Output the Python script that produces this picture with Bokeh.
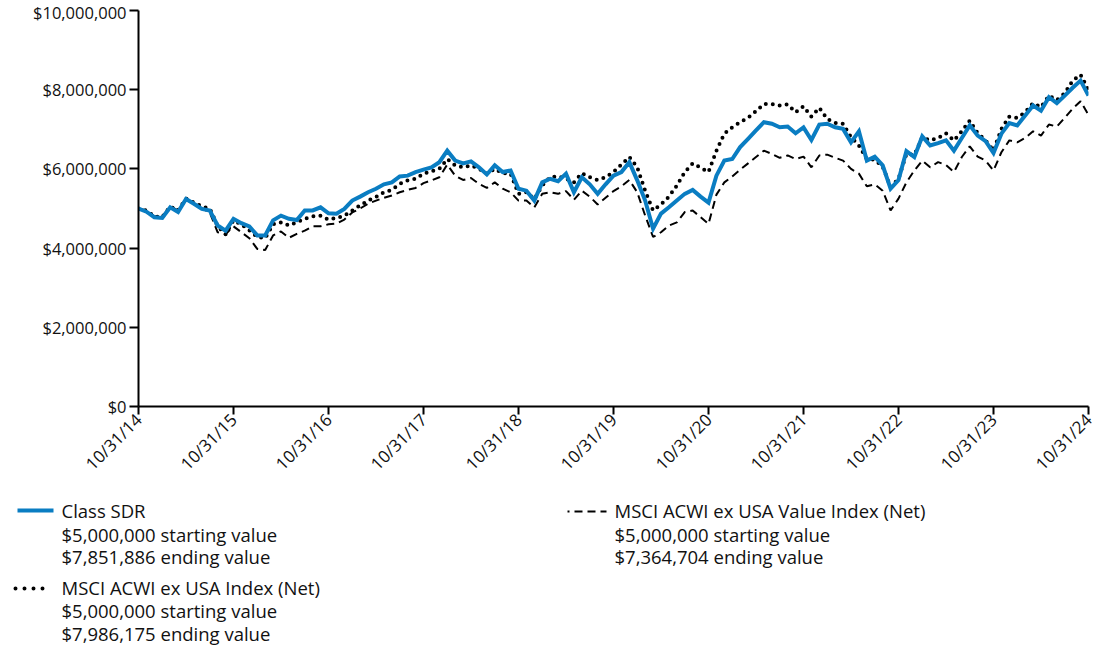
import math
from bokeh.plotting import figure
from bokeh.models import Range1d, NumeralTickFormatter, FixedTicker
from bokeh.layouts import column
from bokeh.embed import file_html
from bokeh.resources import INLINE
from bokeh.core.properties import value

# ---------------- data (values in $ millions, month-end, 10/31/14 .. 10/31/24) ----------------
months = list(range(121))
tick_months = [0, 12, 24, 36, 48, 60, 72, 84, 96, 108, 120]
tick_labels = ["10/31/14", "10/31/15", "10/31/16", "10/31/17", "10/31/18", "10/31/19",
               "10/31/20", "10/31/21", "10/31/22", "10/31/23", "10/31/24"]
y_ticks = [0, 2_000_000, 4_000_000, 6_000_000, 8_000_000, 10_000_000]

class_sdr = [
    5.00, 4.92, 4.78, 4.76, 5.03, 4.91, 5.24, 5.12, 4.99, 4.95,
    4.57, 4.44, 4.74, 4.63, 4.55, 4.32, 4.32, 4.70, 4.82, 4.74,
    4.71, 4.95, 4.95, 5.03, 4.88, 4.87, 4.99, 5.20, 5.30, 5.41,
    5.50, 5.61, 5.66, 5.81, 5.83, 5.92, 5.98, 6.04, 6.17, 6.46,
    6.21, 6.14, 6.19, 6.04, 5.86, 6.09, 5.92, 5.96, 5.50, 5.45,
    5.20, 5.66, 5.75, 5.69, 5.88, 5.41, 5.79, 5.61, 5.37, 5.61,
    5.83, 5.92, 6.17, 5.71, 5.20, 4.49, 4.87, 5.03, 5.20, 5.37,
    5.47, 5.30, 5.15, 5.83, 6.21, 6.25, 6.55, 6.76, 6.97, 7.18,
    7.14, 7.05, 7.07, 6.90, 7.05, 6.73, 7.12, 7.14, 7.05, 7.01,
    6.67, 6.95, 6.21, 6.31, 6.09, 5.50, 5.72, 6.45, 6.30, 6.82,
    6.59, 6.65, 6.72, 6.46, 6.78, 7.10, 6.84, 6.70, 6.40, 6.89,
    7.16, 7.10, 7.35, 7.60, 7.47, 7.81, 7.66, 7.85, 8.05, 8.23,
    7.851886]

acwi_ex_usa = [
    5.00, 4.95, 4.80, 4.78, 5.05, 4.95, 5.25, 5.15, 5.05, 5.00,
    4.55, 4.35, 4.70, 4.60, 4.45, 4.28, 4.25, 4.60, 4.65, 4.57,
    4.65, 4.74, 4.80, 4.82, 4.72, 4.76, 4.82, 4.95, 5.08, 5.20,
    5.29, 5.41, 5.47, 5.62, 5.71, 5.75, 5.88, 5.94, 6.00, 6.25,
    6.09, 6.04, 6.09, 6.00, 5.88, 6.00, 5.89, 5.88, 5.37, 5.41,
    5.24, 5.58, 5.79, 5.81, 5.75, 5.66, 5.89, 5.79, 5.72, 5.79,
    5.92, 6.11, 6.30, 6.04, 5.45, 4.95, 5.10, 5.30, 5.58, 5.92,
    6.14, 6.03, 5.92, 6.46, 6.89, 7.05, 7.18, 7.29, 7.46, 7.64,
    7.64, 7.60, 7.63, 7.43, 7.58, 7.32, 7.54, 7.26, 7.16, 7.14,
    6.80, 6.59, 6.25, 6.23, 6.06, 5.54, 5.75, 6.38, 6.35, 6.80,
    6.72, 6.78, 6.90, 6.72, 6.95, 7.22, 6.90, 6.72, 6.46, 7.01,
    7.32, 7.29, 7.43, 7.66, 7.56, 7.85, 7.74, 7.91, 8.23, 8.38,
    7.986175]

acwi_ex_usa_value = [
    5.00, 4.95, 4.80, 4.80, 5.05, 4.95, 5.25, 5.12, 5.00, 4.90,
    4.40, 4.35, 4.55, 4.40, 4.25, 3.98, 3.95, 4.32, 4.42, 4.26,
    4.36, 4.44, 4.55, 4.55, 4.60, 4.62, 4.72, 4.90, 5.00, 5.12,
    5.20, 5.27, 5.33, 5.41, 5.47, 5.52, 5.64, 5.71, 5.79, 6.11,
    5.83, 5.72, 5.77, 5.62, 5.52, 5.66, 5.50, 5.41, 5.20, 5.20,
    5.03, 5.37, 5.41, 5.37, 5.44, 5.22, 5.45, 5.30, 5.10, 5.27,
    5.44, 5.56, 5.72, 5.41, 4.82, 4.28, 4.40, 4.57, 4.65, 4.91,
    4.95, 4.78, 4.61, 5.35, 5.66, 5.81, 5.98, 6.14, 6.30, 6.46,
    6.38, 6.28, 6.34, 6.25, 6.31, 6.04, 6.34, 6.36, 6.28, 6.21,
    6.00, 5.88, 5.56, 5.61, 5.45, 4.95, 5.25, 5.66, 5.96, 6.21,
    6.04, 6.17, 6.10, 5.92, 6.30, 6.57, 6.31, 6.21, 5.96, 6.42,
    6.72, 6.67, 6.78, 6.95, 6.84, 7.12, 7.07, 7.29, 7.52, 7.71,
    7.364704]

series_names = ["Class SDR", "MSCI ACWI ex USA Index (Net)", "MSCI ACWI ex USA Value Index (Net)"]
start_texts = ["$5,000,000 starting value"] * 3
end_texts = ["$7,851,886 ending value", "$7,986,175 ending value", "$7,364,704 ending value"]

BLUE = "#0a7dc2"
TXT = "#111111"
FONT = "Open Sans"

def dollars(vals):
    return [v * 1_000_000 for v in vals]

# ---------------- main chart ----------------
W = 1100
H_MAIN = 486
p = figure(width=W, height=H_MAIN, output_backend="svg", toolbar_location=None,
           x_range=Range1d(0, 120), y_range=Range1d(0, 10_000_000),
           min_border_left=138, min_border_right=12, min_border_top=10, min_border_bottom=80)
p.frame_align = False
p.outline_line_color = None
p.xgrid.visible = False
p.ygrid.visible = False
p.background_fill_color = "white"
p.border_fill_color = "white"

p.line(months, dollars(acwi_ex_usa_value), line_color="black", line_width=2, line_dash="8 5")
p.line(months, dollars(acwi_ex_usa), line_color="black", line_width=4, line_dash="0 7",
       line_cap="round")
p.line(months, dollars(class_sdr), line_color=BLUE, line_width=4, line_join="miter")

for ax in (p.xaxis[0], p.yaxis[0]):
    ax.axis_line_color = "black"
    ax.axis_line_width = 2
    ax.major_tick_line_color = "black"
    ax.major_tick_line_width = 2
    ax.major_tick_in = 0
    ax.minor_tick_line_color = None
    ax.major_label_text_font = FONT
    ax.major_label_text_color = TXT

p.yaxis.major_label_text_font_size = "16.5px"
p.yaxis.ticker = FixedTicker(ticks=y_ticks)
p.yaxis.formatter = NumeralTickFormatter(format="$0,0")
p.yaxis.major_tick_out = 9
p.yaxis.major_label_standoff = 3

p.xaxis.major_label_text_font_size = "17px"
p.xaxis.ticker = FixedTicker(ticks=tick_months)
p.xaxis.major_label_overrides = {m: lab for m, lab in zip(tick_months, tick_labels)}
p.xaxis.major_label_orientation = math.pi / 4
p.xaxis.major_tick_out = 8
p.xaxis.major_label_standoff = 2

# ---------------- legend panel ----------------
H_LEG = 653 - H_MAIN
lg = figure(width=W, height=H_LEG, output_backend="svg", toolbar_location=None,
            x_range=Range1d(0, W), y_range=Range1d(H_LEG, 0),
            x_axis_location=None, y_axis_location=None, min_border=0)
lg.frame_align = False
lg.outline_line_color = None
lg.xgrid.visible = False
lg.ygrid.visible = False

# sample lines
lg.line([17, 53], [24, 24], line_color=BLUE, line_width=4)
lg.line([15, 51], [102, 102], line_color="black", line_width=4, line_dash="0 9", line_cap="round")
lg.line([567, 606], [25, 25], line_color="black", line_width=2, line_dash="8 5",
        line_dash_offset=6)

text_x = [61, 61, 61, 61, 61, 61, 614, 614, 614]
text_y = [24, 48, 70, 101, 124, 147, 24, 48, 70]
texts = [series_names[0], start_texts[0], end_texts[0],
         series_names[1], start_texts[1], end_texts[1],
         series_names[2], start_texts[2], end_texts[2]]
lg.text(x=text_x, y=text_y, text=texts, text_font=value(FONT), text_font_size="18.5px",
        text_baseline="middle", text_align="left", text_color=TXT)

root = column(p, lg, spacing=0)

open("out.html", "w").write(file_html(root, INLINE))
